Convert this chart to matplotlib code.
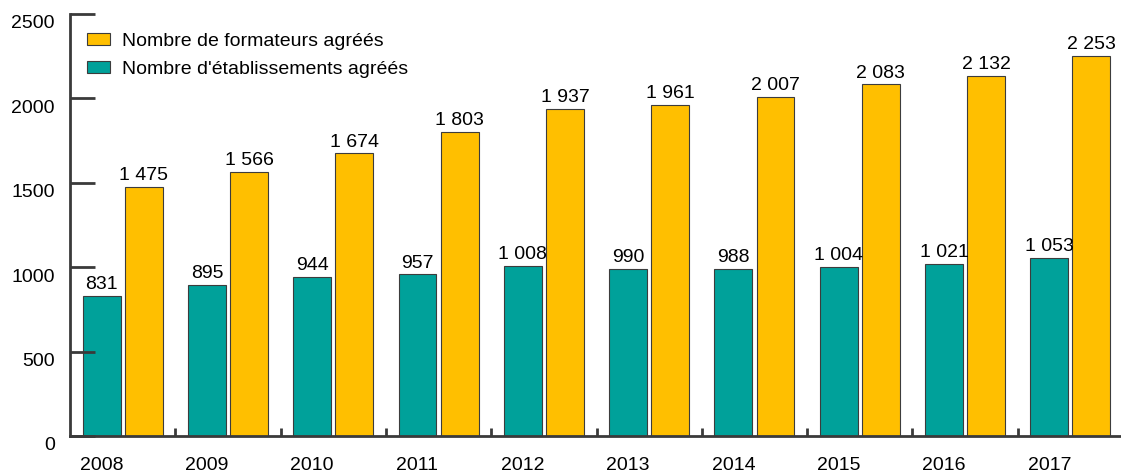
import numpy as np
import matplotlib
matplotlib.use("Agg")
import matplotlib.pyplot as plt
import matplotlib.transforms as mtransforms

years = ["2008", "2009", "2010", "2011", "2012", "2013", "2014", "2015", "2016", "2017"]
etablissements = [831, 895, 944, 957, 1008, 990, 988, 1004, 1021, 1053]
formateurs = [1475, 1566, 1674, 1803, 1937, 1961, 2007, 2083, 2132, 2253]

label_etab = "Nombre d'établissements agréés"
label_form = "Nombre de formateurs agréés"

teal = "#00A19A"
orange = "#FFBF00"
edge = "#3c3c3c"
axis_col = "#3a3a3a"

plt.rcParams['font.family'] = ['Liberation Sans', 'DejaVu Sans']
FS = 14


def fmt(v):
    return "{:,}".format(v).replace(",", " ")


fig = plt.figure(figsize=(11.21, 4.74), dpi=100)
ax = fig.add_axes([70 / 1121, 38 / 474, 1053 / 1121, 422 / 474])

x = np.arange(len(years))
w = 0.36
b1 = ax.bar(x - 0.2, etablissements, w, color=teal, edgecolor=edge, linewidth=0.8, label=label_etab)
b2 = ax.bar(x + 0.2, formateurs, w, color=orange, edgecolor=edge, linewidth=0.8, label=label_form)

for rect, v in zip(list(b1) + list(b2), etablissements + formateurs):
    ax.annotate(fmt(v), (rect.get_x() + rect.get_width() / 2, rect.get_height()),
                xytext=(0, 2), textcoords="offset points", ha="center", va="bottom", fontsize=FS)

ax.set_xlim(-0.5, 9.5)
ax.set_ylim(0, 2500)
ax.set_yticks(np.arange(0, 2501, 500))
ax.set_xticks(x - 0.2)
ax.set_xticklabels(years)
ax.set_xticks(np.arange(0.5, 9.5, 1), minor=True)

for s in ("top", "right"):
    ax.spines[s].set_visible(False)
for s in ("left", "bottom"):
    ax.spines[s].set_color(axis_col)
    ax.spines[s].set_linewidth(2)

ax.tick_params(axis="y", direction="in", length=18, width=2, color=axis_col, pad=11, labelsize=FS)
ax.tick_params(axis="x", which="major", length=0, pad=15, labelsize=FS)
ax.tick_params(axis="x", which="minor", direction="in", length=6, width=2, color=axis_col)

shift = mtransforms.ScaledTranslation(0, -8 / 100, fig.dpi_scale_trans)
for lab in ax.get_yticklabels():
    lab.set_transform(lab.get_transform() + shift)

ax.legend([b2, b1], [label_form, label_etab], loc="upper left", bbox_to_anchor=(0.016, 0.955),
          frameon=False, fontsize=FS, borderpad=0, borderaxespad=0, handlelength=1.2,
          handleheight=0.57, handletextpad=0.62, labelspacing=0.55)

fig.savefig("out.png", dpi=100)
